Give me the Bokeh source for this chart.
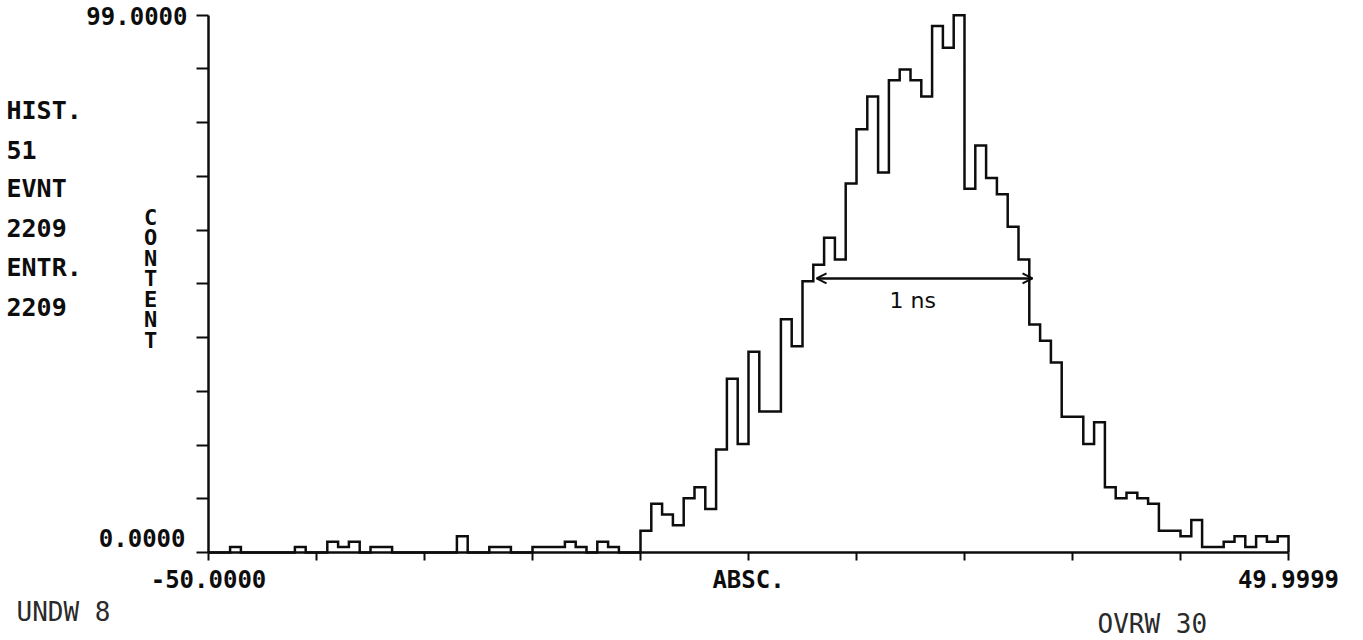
from bokeh.plotting import figure
from bokeh.models import Arrow, OpenHead, FixedTicker, Range1d
from bokeh.core.properties import value
from bokeh.embed import file_html
from bokeh.resources import INLINE

# ---------------- data ----------------
X_MIN, X_MAX = -50.0, 50.0
Y_MAX = 99.0
COUNTS = [
    0, 0, 1, 0, 0, 0, 0, 0, 1, 0,
    0, 2, 1, 2, 0, 1, 1, 0, 0, 0,
    0, 0, 0, 3, 0, 0, 1, 1, 0, 0,
    1, 1, 1, 2, 1, 0, 2, 1, 0, 0,
    4, 9, 7, 5, 10, 12, 8, 19, 32, 20,
    37, 26, 26, 43, 38, 50, 53, 58, 54, 68,
    78, 84, 70, 87, 89, 87, 84, 97, 93, 99,
    67, 75, 69, 66, 60, 54, 42, 39, 35, 25,
    25, 20, 24, 12, 10, 11, 10, 9, 4, 4,
    3, 6, 1, 1, 2, 3, 1, 3, 2, 3,
]
X_TICKS = [-50, -40, -30, -20, -10, 0, 10, 20, 30, 40, 50]
X_LABELLED = {-50: "-50.0000", 0: "ABSC.", 50: "49.9999"}
Y_TICKS = [0, 9.9, 19.8, 29.7, 39.6, 49.5, 59.4, 69.3, 79.2, 89.1, 99.0]
Y_TOP_LABEL = "99.0000"
Y_BOT_LABEL = "0.0000"
Y_TITLE = "CONTENT"
INFO_LINES = ["HIST.", "51", "EVNT", "2209", "ENTR.", "2209"]
UNDERFLOW = "UNDW 8"
OVERFLOW = "OVRW 30"
FWHM_SPAN = [6.3, 26.3]
FWHM_LEVEL = 50.5
FWHM_TEXT = "1 ns"

# ---------------- layout (pixels) ----------------
W, H = 1363, 640
PX_LEFT, PX_RIGHT = 208, 1288     # x = -50 .. 50
PX_ZERO, PX_TOP = 552, 14.7       # y = 0 .. 99

sx = (PX_RIGHT - PX_LEFT) / (X_MAX - X_MIN)
sy = (PX_ZERO - PX_TOP) / Y_MAX
xr = Range1d(X_MIN - PX_LEFT / sx, X_MAX + (W - PX_RIGHT) / sx)
yr = Range1d(-(H - PX_ZERO) / sy, Y_MAX + PX_TOP / sy)

p = figure(width=W, height=H, x_range=xr, y_range=yr,
           output_backend="svg", toolbar_location=None, min_border=0)
p.title.visible = False
p.outline_line_color = None
p.xgrid.visible = False
p.ygrid.visible = False
p.background_fill_color = "white"
p.border_fill_color = "white"

INK = "#0d0d0d"
MONO = "DejaVu Sans Mono"

xa, ya = p.xaxis[0], p.yaxis[0]
xa.fixed_location = 0
ya.fixed_location = X_MIN
xa.bounds = (X_MIN, X_MAX)
ya.bounds = (0, Y_MAX)
for ax in (xa, ya):
    ax.axis_line_width = 2.5
    ax.axis_line_color = INK
    ax.major_tick_line_width = 2
    ax.major_tick_line_color = INK
    ax.minor_tick_line_width = 2
    ax.minor_tick_line_color = INK
    ax.major_tick_in = 0
    ax.minor_tick_in = 0

xa.ticker = FixedTicker(ticks=list(X_LABELLED.keys()),
                        minor_ticks=[t for t in X_TICKS if t not in X_LABELLED])
xa.major_label_overrides = X_LABELLED
xa.major_tick_out = 8
xa.minor_tick_out = 8
xa.major_label_standoff = 5
xa.major_label_text_font = MONO
xa.major_label_text_font_style = "bold"
xa.major_label_text_font_size = "24px"
xa.major_label_text_color = INK

ya.ticker = FixedTicker(ticks=[], minor_ticks=Y_TICKS)
ya.minor_tick_out = 12

# histogram outline (step)
n = len(COUNTS)
bw = (X_MAX - X_MIN) / n
xs, ys = [X_MIN], [0]
for i, c in enumerate(COUNTS):
    xs += [X_MIN + i * bw, X_MIN + (i + 1) * bw]
    ys += [c, c]
xs.append(X_MAX)
ys.append(0)
p.line(xs, ys, line_width=2.5, line_color=INK, line_join="miter")

# pixel -> data helpers for text placement
def dx(px):
    return X_MIN + (px - PX_LEFT) / sx

def dy(py):
    return (PX_ZERO - py) / sy

def txt(texts, pxs, pys, align="left", size="24px", style="bold", color=INK,
        font=MONO, baseline="middle", lh=1.2):
    p.text(x=[dx(v) for v in pxs], y=[dy(v) for v in pys], text=texts,
           text_align=align, text_baseline=baseline, text_font=value(font),
           text_font_size=size, text_font_style=style, text_color=color,
           text_line_height=lh)

txt([Y_TOP_LABEL, Y_BOT_LABEL], [187, 185], [15, 537], align="right")
txt(INFO_LINES, [6] * len(INFO_LINES),
    [110 + i * 39.2 for i in range(len(INFO_LINES))], size="25px")
txt(["\n".join(Y_TITLE)], [150], [204], align="center", size="22px",
    baseline="top", lh=0.82)
txt([UNDERFLOW], [16], [611], size="26px", style="normal", color="#2a2a2a")
txt([OVERFLOW], [1097], [623], size="26px", style="normal", color="#2a2a2a")

# FWHM arrow + hand label
p.add_layout(Arrow(x_start=FWHM_SPAN[0], y_start=FWHM_LEVEL,
                   x_end=FWHM_SPAN[1], y_end=FWHM_LEVEL,
                   line_width=2.5, line_color=INK,
                   start=OpenHead(size=10, line_width=2, line_color=INK),
                   end=OpenHead(size=10, line_width=2, line_color=INK)))
txt([FWHM_TEXT], [889], [300], size="22px", style="normal", font="DejaVu Sans")

open("out.html", "w").write(file_html(p, INLINE))
